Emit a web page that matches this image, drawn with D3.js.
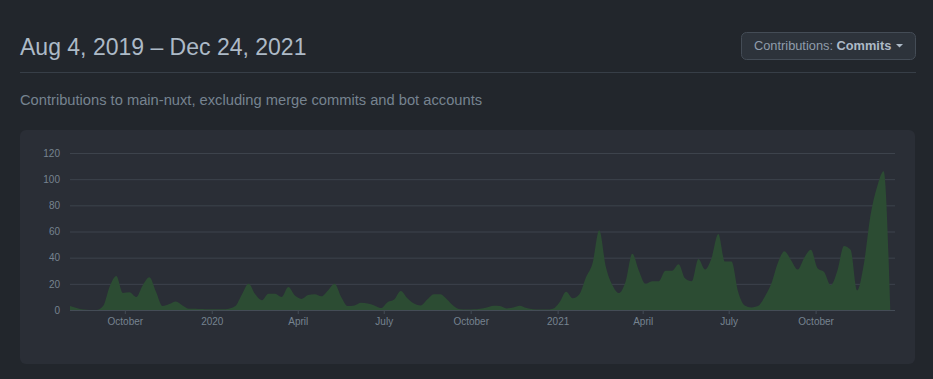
<!DOCTYPE html>
<html>
<head>
<meta charset="utf-8">
<script src="https://cdn.jsdelivr.net/npm/d3@7"></script>
<style>
  html, body { margin: 0; padding: 0; background: #22262c; }
  svg { display: block; font-family: "Liberation Sans", Arial, sans-serif; }
</style>
</head>
<body>
<svg id="chart" width="933" height="379"></svg>
<script>
// ---- data ----
const titleText = "Aug 4, 2019 – Dec 24, 2021";
const subtitleText = "Contributions to main-nuxt, excluding merge commits and bot accounts";
const startWeek = "2019-08-04";
const domainEnd = "2021-12-24";
// weekly commit counts, week starting Aug 4, 2019
const commits = [
  3, 1.5, 0.3, 0, 0, 3, 18, 26, 13, 13.5,
  10, 19, 25, 14, 3, 4.5, 6.5, 3.5, 1, 1,
  0.7, 0.5, 0.5, 0.5, 1, 3, 12, 20, 12, 7.5,
  12.5, 12.5, 10, 17.5, 11, 8.5, 11.5, 12, 10.5, 15,
  20, 10, 3, 3.5, 5.5, 5, 3.5, 1.5, 6, 8,
  14.5, 9, 5, 3.5, 8, 12, 12, 8, 3, 0.5,
  0.3, 0.5, 1, 2, 3.3, 3, 1.2, 2, 3.3, 1.5,
  0.5, 0.3, 0.3, 1, 6, 14, 9, 12, 25, 36,
  61, 33, 19, 13, 22, 43, 30, 20, 22, 22,
  30, 30, 35, 24, 22, 39, 31, 40, 58, 37,
  37, 14, 3.5, 2, 3, 10, 20, 36, 45, 38,
  31, 40, 46, 32, 29, 19, 30, 49, 46, 15,
  35, 72, 94, 106, 0
];
const yTicks = [0, 20, 40, 60, 80, 100, 120];
const xTickDates = ["2019-10-01", "2020-01-01", "2020-04-01", "2020-07-01", "2020-10-01",
                    "2021-01-01", "2021-04-01", "2021-07-01", "2021-10-01"];
const xTickLabels = ["October", "2020", "April", "July", "October", "2021", "April", "July", "October"];

// ---- build ----
const parse = d3.timeParse("%Y-%m-%d");
const weekDates = commits.map((_, i) => d3.timeDay.offset(parse(startWeek), i * 7));
const series = commits.map((v, i) => ({ date: weekDates[i], value: v }));

const svg = d3.select("#chart");
const W = 933, H = 379;

svg.append("rect").attr("width", W).attr("height", H).attr("fill", "#22262c");

// title
svg.append("text").attr("x", 20).attr("y", 55)
  .attr("fill", "#adbac7").attr("font-size", 23).text(titleText);
svg.append("line").attr("x1", 20).attr("x2", 916).attr("y1", 72.5).attr("y2", 72.5)
  .attr("stroke", "#373e47").attr("stroke-width", 1);

// button
const btn = svg.append("g");
btn.append("rect").attr("x", 741.5).attr("y", 32.5).attr("width", 174).attr("height", 27)
  .attr("rx", 5).attr("fill", "#2d333b").attr("stroke", "#444c56");
const bt = btn.append("text").attr("x", 754).attr("y", 50).attr("font-size", 12.8);
bt.append("tspan").attr("fill", "#909dab").text("Contributions: ");
bt.append("tspan").attr("fill", "#adbac7").attr("font-weight", "bold").text("Commits");
btn.append("path").attr("d", "M896,44 L903,44 L899.5,47.5 Z").attr("fill", "#adbac7");

// subtitle
svg.append("text").attr("x", 20).attr("y", 105)
  .attr("fill", "#768390").attr("font-size", 14.7).text(subtitleText);

// panel
svg.append("rect").attr("x", 20).attr("y", 130).attr("width", 895).attr("height", 234)
  .attr("rx", 6).attr("fill", "#2a2e36");

// scales
const x = d3.scaleTime().domain([parse(startWeek), parse(domainEnd)]).range([70, 895]);
const y = d3.scaleLinear().domain([0, 120]).range([310, 153]);

// grid
const gy = svg.append("g").attr("transform", "translate(70,0)")
  .call(d3.axisLeft(y).tickValues(yTicks).tickSize(-825).tickPadding(10).tickFormat(d3.format("d")));
gy.select(".domain").remove();
gy.selectAll(".tick line").attr("stroke", "#3d434c");
gy.selectAll(".tick text").attr("fill", "#768390").attr("font-size", 10)
  .attr("font-family", "Liberation Sans, Arial, sans-serif");

// area
const area = d3.area().x(d => x(d.date)).y0(y(0)).y1(d => y(d.value)).curve(d3.curveMonotoneX);
svg.append("path").datum(series).attr("d", area).attr("fill", "#2c4c33");

// x axis
const gx = svg.append("g").attr("transform", "translate(0,310)")
  .call(d3.axisBottom(x).tickValues(xTickDates.map(parse)).tickSize(4).tickPadding(4)
    .tickFormat((d, i) => xTickLabels[i]));
gx.select(".domain").attr("stroke", "#444c56").attr("d", "M70,0.5H895");
gx.selectAll(".tick line").attr("stroke", "#444c56");
gx.selectAll(".tick text").attr("fill", "#768390").attr("font-size", 10)
  .attr("font-family", "Liberation Sans, Arial, sans-serif");
</script>
</body>
</html>
